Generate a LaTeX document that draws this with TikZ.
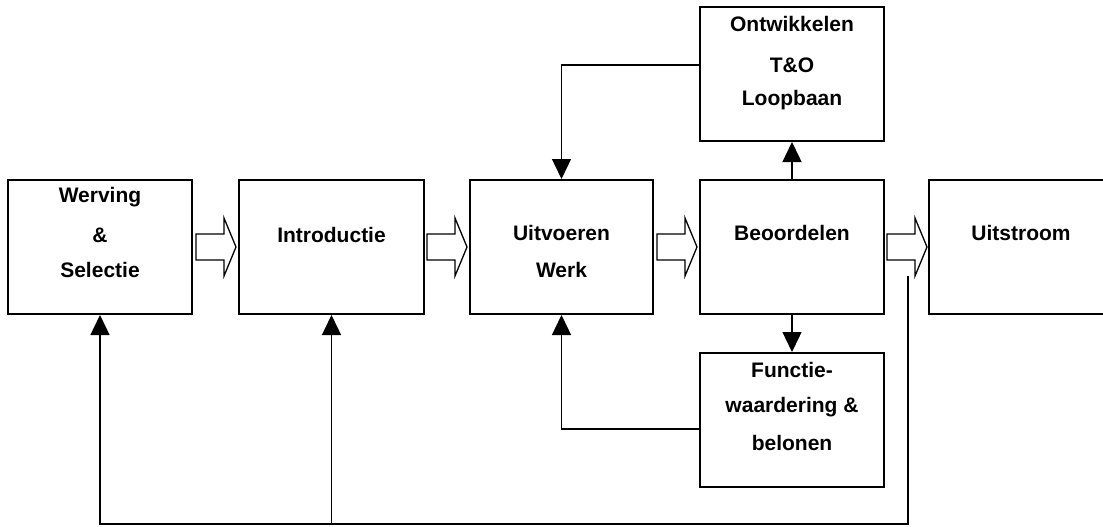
\documentclass[tikz,border=0pt]{standalone}
\usepackage{fontspec}
\setmainfont{Liberation Sans}
\usetikzlibrary{arrows.meta}
\tikzset{
  box/.style={draw, line width=2pt, minimum width=184pt, minimum height=134pt, inner sep=0pt},
  lbl/.style={font=\bfseries\fontsize{21}{25}\selectfont, inner sep=0pt},
  conn/.style={line width=1.4pt},
  arr/.style={conn, -{Triangle[width=19pt,length=20pt]}},
  blockarrow/.pic={\draw[line width=1.3pt] (0,-13) -- (28,-13) -- (28,-29) -- (40,0) -- (28,29) -- (28,13) -- (0,13) -- cycle;}
}
\begin{document}
\begin{tikzpicture}[x=1pt,y=-1pt]
\useasboundingbox (0,0) rectangle (1103,527);
\begin{scope}
\clip (0,0) rectangle (1103,527);
% main process row
\node[box] (b1) at (100,247) {};
\node[box, minimum width=185pt] (b2) at (331.5,247) {};
\node[box, minimum width=183pt] (b3) at (561.5,247) {};
\node[box] (b4) at (792,247) {};
\node[box] (b5) at (1021,247) {};
% side boxes
\node[box] (top) at (792,74) {};
\node[box] (bot) at (792,420) {};
\end{scope}

% labels
\node[lbl] (t1a) at (100,197) {Werving};
\node[lbl] (t1b) at (100,235) {\&};
\node[lbl] (t1c) at (100,270) {Selectie};
\node[lbl] (t2) at (331.5,235) {Introductie};
\node[lbl] (t3a) at (561.5,233) {Uitvoeren};
\node[lbl] (t3b) at (561.5,270) {Werk};
\node[lbl] (t4) at (792,233) {Beoordelen};
\node[lbl] (t5) at (1021,233) {Uitstroom};
\node[lbl] (tta) at (792,24) {Ontwikkelen};
\node[lbl] (ttb) at (792,65) {T\&O};
\node[lbl] (ttc) at (792,100) {Loopbaan};
\node[lbl] (tba) at (792,370) {Functie-};
\node[lbl] (tbb) at (792,407) {waardering \&};
\node[lbl] (tbc) at (792,443) {belonen};

% hollow flow arrows between the stages
\pic at (196,247) {blockarrow};
\pic at (427,247) {blockarrow};
\pic at (657,247) {blockarrow};
\pic at (887,247) {blockarrow};

% feedback connectors
\draw[arr] ([yshift=9pt]top.west) -| (b3.north);
\draw[arr] (b4.north) -- (top.south);
\draw[arr] (b4.south) -- (bot.north);
\draw[arr] ([yshift=-9pt]bot.west) -| (b3.south);

\coordinate (fb) at (908,276);
\coordinate (base) at (0,524);
\draw[arr] (fb) -- (fb |- base) -| (b1.south);
\draw[arr] (b2.south |- base) -- (b2.south);
\end{tikzpicture}
\end{document}
